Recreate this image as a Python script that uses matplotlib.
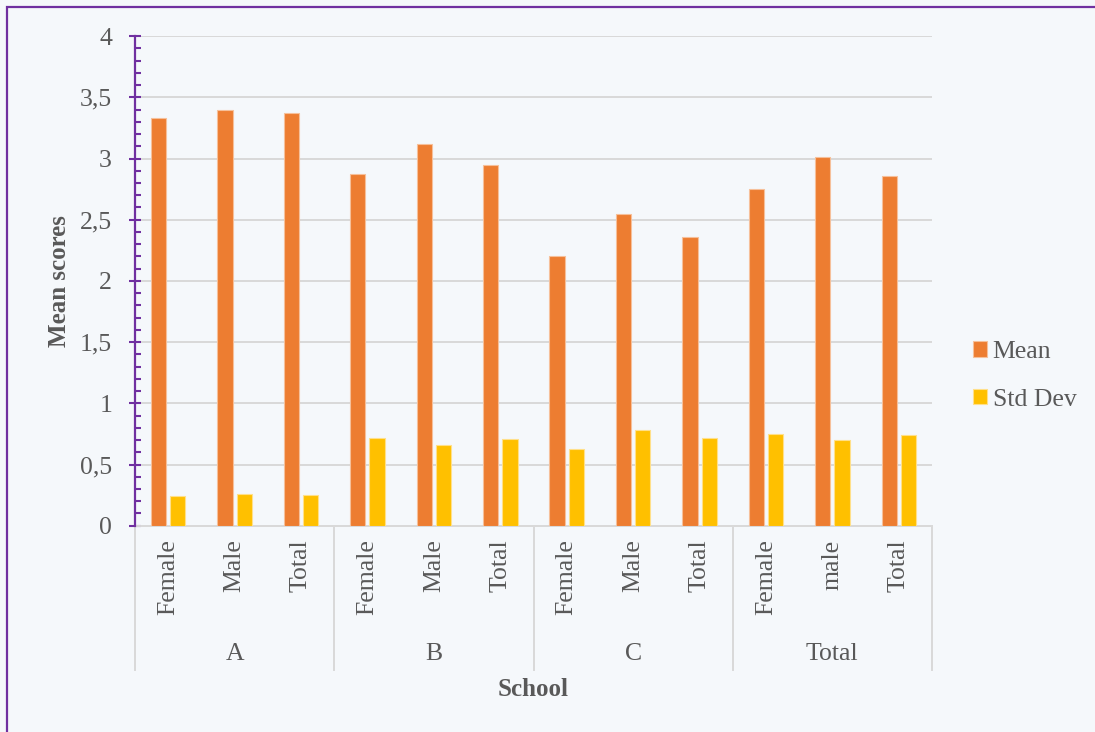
import matplotlib
matplotlib.use("Agg")
import matplotlib.pyplot as plt
import matplotlib.transforms as mtransforms
from matplotlib.ticker import MultipleLocator, FuncFormatter
from matplotlib.patches import Rectangle
from matplotlib.lines import Line2D
import numpy as np

# Data
schools = ["A", "B", "C", "Total"]
subgroups = ["Female", "Male", "Total",
             "Female", "Male", "Total",
             "Female", "Male", "Total",
             "Female", "male", "Total"]
mean_scores = [3.33, 3.40, 3.37, 2.87, 3.12, 2.95, 2.20, 2.55, 2.36, 2.75, 3.01, 2.86]
std_dev = [0.24, 0.26, 0.25, 0.72, 0.66, 0.71, 0.63, 0.78, 0.72, 0.75, 0.70, 0.74]

ORANGE = "#ED7D31"
YELLOW = "#FFC000"
PURPLE = "#7030A0"
GRID = "#D9D9D9"
TEXT = "#595959"
BG = "#F5F8FB"

plt.rcParams["font.family"] = ["Liberation Serif", "DejaVu Serif"]

W, H = 1095, 732
fig = plt.figure(figsize=(W / 100, H / 100), dpi=100, facecolor=BG)

# outer frame (left and top edges visible)
fig.patches.append(Rectangle((7 / W, -0.1), 1.2, (H - 7) / H + 0.1,
                             transform=fig.transFigure, fill=False,
                             edgecolor=PURPLE, linewidth=1.6))

ax_l, ax_r, ax_t, ax_b = 135, 932, 36.1, 525.7
ax = fig.add_axes([ax_l / W, (H - ax_b) / H, (ax_r - ax_l) / W, (ax_b - ax_t) / H])
ax.set_facecolor(BG)

x = np.arange(len(subgroups))
bw = 0.23
off = 0.145
ax.bar(x - off, mean_scores, width=bw, color=ORANGE, edgecolor="#F6C09A",
       linewidth=0.8, label="Mean", zorder=3)
ax.bar(x + off, std_dev, width=bw, color=YELLOW, edgecolor="#FFE08A",
       linewidth=0.8, label="Std Dev", zorder=3)

ax.set_xlim(-0.5, len(subgroups) - 0.5)
ax.set_ylim(0, 4)

# y axis
ax.yaxis.set_major_locator(MultipleLocator(0.5))
ax.yaxis.set_minor_locator(MultipleLocator(0.1))
ax.yaxis.set_major_formatter(FuncFormatter(lambda v, p: f"{v:g}".replace(".", ",")))
ax.tick_params(axis="y", which="major", direction="inout", length=9, width=1.5,
               color=PURPLE, labelsize=18.5, labelcolor=TEXT, pad=12)
ax.tick_params(axis="y", which="minor", direction="in", length=4.5, width=1.5,
               color=PURPLE)
ax.grid(axis="y", which="major", color=GRID, linewidth=1.4, zorder=0)

for s in ["top", "right"]:
    ax.spines[s].set_visible(False)
ax.spines["left"].set_color(PURPLE)
ax.spines["left"].set_linewidth(1.6)
ax.spines["left"].set_zorder(5)
ax.spines["bottom"].set_color(GRID)
ax.spines["bottom"].set_linewidth(1.4)

# x axis: inner category labels
ax.set_xticks(x)
ax.set_xticklabels(subgroups, rotation=90)
ax.tick_params(axis="x", length=0, labelsize=18.5, labelcolor=TEXT, pad=10)

# outer category labels and separators
trans = mtransforms.blended_transform_factory(ax.transData, ax.transAxes)
sep_bottom = (ax_b - 670) / (ax_b - ax_t)
label_y = (ax_b - 654) / (ax_b - ax_t)
for i in range(len(schools) + 1):
    xs = i * 3 - 0.5
    ax.add_line(Line2D([xs, xs], [0, sep_bottom], transform=trans, color=GRID,
                       linewidth=1.4, clip_on=False))
for i, name in enumerate(schools):
    ax.text(i * 3 + 1, label_y, name, transform=trans, ha="center", va="center",
            fontsize=18.5, color=TEXT)

ax.text(0.5, (ax_b - 690) / (ax_b - ax_t), "School", transform=ax.transAxes,
        ha="center", va="center", fontsize=18, fontweight="bold", color=TEXT)
ax.set_ylabel("Mean scores", fontsize=18, fontweight="bold", color=TEXT)
ax.yaxis.set_label_coords((71 - ax_l) / (ax_r - ax_l), 0.5)

leg = ax.legend(loc="center left", bbox_to_anchor=(963 / W, (H - 376) / H),
                bbox_transform=fig.transFigure, frameon=False, fontsize=18.5,
                handlelength=0.55, handleheight=0.55, handletextpad=0.2,
                labelspacing=1.0, borderaxespad=0)
for t in leg.get_texts():
    t.set_color(TEXT)

fig.savefig("out.png", dpi=100, facecolor=BG)
